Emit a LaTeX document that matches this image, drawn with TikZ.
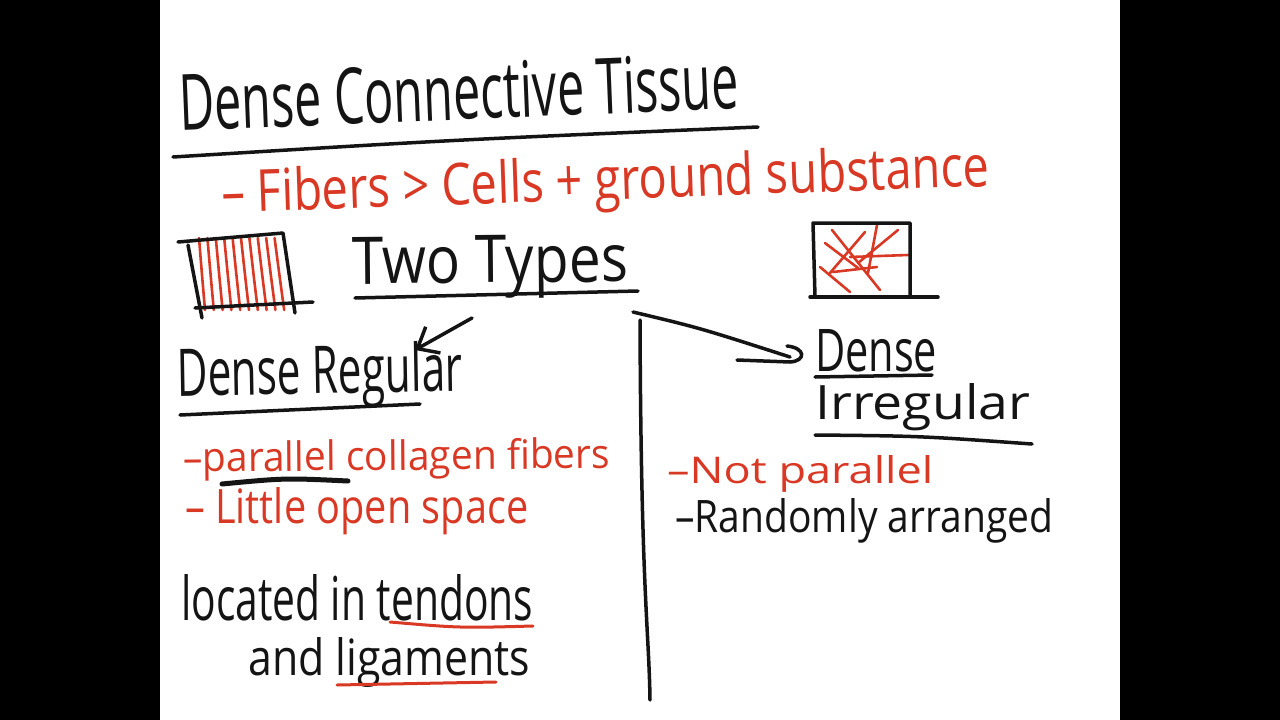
\documentclass[tikz,border=0pt]{standalone}
\usepackage{fontspec}
\usepackage{graphicx}
\setmainfont{Open Sans}
\usetikzlibrary{arrows.meta}
\definecolor{ink}{RGB}{20,20,20}
\definecolor{pen}{RGB}{217,57,36}
\newcommand{\hw}[3]{\resizebox{#1pt}{#2pt}{#3}}
\begin{document}
\begin{tikzpicture}[x=1pt,y=-1pt,
  txt/.style={inner sep=0pt, anchor=base west, text=ink},
  rtxt/.style={txt, text=pen},
  stroke/.style={draw=ink, line width=3.5pt, line cap=round, line join=round},
  rstroke/.style={stroke, draw=pen},
  fib/.style={rstroke, line width=2.6pt},
]
\useasboundingbox (0,0) rectangle (1280,720);
\fill[black] (0,0) rectangle (1280,720);
\fill[white] (160,0) rectangle (1120,720);

% ---- title
\node[txt, rotate=2.3] (title) at (180,131) {\hw{560}{57}{Dense Connective Tissue}};
\coordinate (t1) at (173,157);
\coordinate (t2) at (758,127);
\draw[stroke] (t1) .. controls (450,140) .. (t2);

% ---- red line
\node[rtxt, rotate=2.0] (fibers) at (222,213) {\hw{768}{44}{– Fibers > Cells + ground substance}};

% ---- left sketch box
\coordinate (lb1) at (178,242);
\coordinate (lb2) at (283,233);
\coordinate (lb3) at (295,313);
\coordinate (lb4) at (188,245);
\coordinate (lb5) at (202,318);
\coordinate (lb6) at (195,308);
\coordinate (lb7) at (313,302);
\foreach \i in {0,...,9}
  \draw[fib] ({199+8.4*\i},238) .. controls ({202+8.6*\i},275) .. ({205+8.8*\i},310);
\draw[stroke] (lb1) -- (lb2) -- (lb3);
\draw[stroke] (lb4) -- (lb5);
\draw[stroke] (lb6) -- (lb7);

% ---- Two Types
\node[txt, rotate=0.5] (types) at (352,284) {\hw{276}{47}{Two Types}};
\coordinate (u1) at (355,298);
\coordinate (u2) at (638,291);
\draw[stroke] (u1) -- (u2);

% ---- right sketch box
\coordinate (rb1) at (815,297);
\coordinate (rb2) at (813,223);
\coordinate (rb3) at (910,223);
\coordinate (rb4) at (910,297);
\coordinate (rb5) at (810,297);
\coordinate (rb6) at (938,297);
\draw[fib] (832,230) -- (880,290);
\draw[fib] (825,243) -- (858,268);
\draw[fib] (865,232) -- (830,273);
\draw[fib] (877,225) -- (868,273);
\draw[fib] (898,230) -- (858,263);
\draw[fib] (908,255) -- (850,257);
\draw[fib] (820,267) -- (850,292);
\draw[fib] (833,272) -- (877,267);
\draw[stroke] (rb1) -- (rb2) -- (rb3) -- (rb4);
\draw[stroke] (rb5) -- (rb6);

% ---- left branch
\coordinate (la1) at (472,318);
\coordinate (la2) at (415,350);
\draw[stroke, -{Straight Barb[length=18pt,width=30pt]}] (la1) -- (la2);
\node[txt, rotate=1] (reg) at (177,396) {\hw{286}{50}{Dense Regular}};
\coordinate (ru1) at (180,415);
\coordinate (ru2) at (420,404);
\draw[stroke] (ru1) -- (ru2);

% ---- divider and right branch
\coordinate (vtop) at (640,320);
\coordinate (vbot) at (650,700);
\draw[stroke] (vtop) .. controls (641,590) and (649,630) .. (vbot);
\coordinate (ds) at (633,312);
\coordinate (dt) at (790,357);
\draw[stroke] (ds) .. controls (700,328) .. (dt);
\coordinate (hb) at (737,360);
\coordinate (hc) at (790,362);
\coordinate (hd) at (787,346);
\draw[stroke] (hb) -- (hc) .. controls (806,361) and (806,348) .. (hd);

\node[txt] (dense2) at (815,371) {\hw{122}{42}{Dense}};
\coordinate (du1) at (815,377);
\coordinate (du2) at (932,375);
\draw[stroke] (du1) -- (du2);
\node[txt] (irr) at (815,419) {\hw{215}{36}{Irregular}};
\coordinate (iu1) at (815,435);
\coordinate (iu2) at (1032,444);
\draw[stroke] (iu1) .. controls (920,436) .. (iu2);

% ---- regular details
\node[rtxt, rotate=0.5] (par) at (183,472) {\hw{427}{31}{–parallel collagen fibers}};
\coordinate (pu1) at (222,484);
\coordinate (pu2) at (348,481);
\draw[stroke, line width=5pt] (pu1) .. controls (285,478) .. (pu2);
\node[rtxt] (open) at (185,523) {\hw{343}{36}{– Little open space}};

\node[txt] (loc) at (181,620) {\hw{352}{46}{located in tendons}};
\coordinate (tu1) at (390,622);
\coordinate (tu2) at (533,626);
\draw[rstroke, line width=3pt] (tu1) .. controls (460,628) .. (tu2);
\node[txt] (lig) at (248,675) {\hw{282}{38}{and ligaments}};
\coordinate (gu1) at (337,685);
\coordinate (gu2) at (496,682);
\draw[rstroke, line width=3pt] (gu1) -- (gu2);

% ---- irregular details
\node[rtxt] (notpar) at (667,483) {\hw{266}{28}{–Not parallel}};
\node[txt] (rand) at (675,532) {\hw{378}{34}{–Randomly arranged}};
\end{tikzpicture}
\end{document}
